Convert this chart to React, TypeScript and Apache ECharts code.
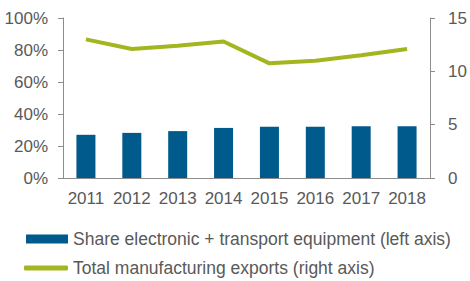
import React, { useEffect, useRef } from "react";
import * as echarts from "echarts";

const years = ["2011", "2012", "2013", "2014", "2015", "2016", "2017", "2018"];
const shareElectronicTransport = [27.0, 28.2, 29.3, 31.3, 32.0, 32.0, 32.4, 32.4];
const totalManufacturingExports = [13.0, 12.1, 12.4, 12.8, 10.75, 11.0, 11.5, 12.1];

const barName = "Share electronic + transport equipment (left axis)";
const lineName = "Total manufacturing exports (right axis)";

const textColor = "#595959";
const axisColor = "#8c8c8c";
const font = "'Liberation Sans', Arial, sans-serif";

export default function App() {
  const ref = useRef<HTMLDivElement>(null);
  useEffect(() => {
    if (!ref.current) return;
    document.body.style.margin = "0";
    const chart = echarts.init(ref.current, undefined, { renderer: "svg" });
    chart.setOption({
      animation: false,
      textStyle: { fontFamily: font },
      grid: { left: 63, right: 40, top: 18, bottom: 103, containLabel: false },
      legend: [
        {
          data: [barName],
          left: 26,
          top: 230,
          padding: 0,
          icon: "rect",
          itemWidth: 42,
          itemHeight: 9,
          textStyle: { color: textColor, fontSize: 17.5, fontFamily: font },
        },
        {
          data: [lineName],
          left: 24,
          top: 259,
          padding: 0,
          icon: "roundRect",
          itemWidth: 44,
          itemHeight: 5,
          textStyle: { color: textColor, fontSize: 17.5, fontFamily: font },
        },
      ],
      xAxis: {
        type: "category",
        data: years,
        axisLine: { lineStyle: { color: axisColor, width: 1 } },
        axisTick: { length: 5, lineStyle: { color: axisColor } },
        axisLabel: { color: textColor, fontSize: 17, margin: 12, interval: 0 },
      },
      yAxis: [
        {
          type: "value",
          min: 0,
          max: 100,
          interval: 20,
          position: "left",
          axisLine: { show: true, lineStyle: { color: axisColor } },
          axisTick: { show: true, length: 5, lineStyle: { color: axisColor } },
          splitLine: { show: false },
          axisLabel: { color: textColor, fontSize: 17, margin: 15, formatter: "{value}%" },
        },
        {
          type: "value",
          min: 0,
          max: 15,
          interval: 5,
          position: "right",
          axisLine: { show: true, lineStyle: { color: axisColor } },
          axisTick: { show: true, length: 5, lineStyle: { color: axisColor } },
          splitLine: { show: false },
          axisLabel: { color: textColor, fontSize: 17, margin: 18 },
        },
      ],
      series: [
        {
          name: barName,
          type: "bar",
          data: shareElectronicTransport,
          yAxisIndex: 0,
          barWidth: 19,
          itemStyle: { color: "#005a8b" },
        },
        {
          name: lineName,
          type: "line",
          data: totalManufacturingExports,
          yAxisIndex: 1,
          symbol: "none",
          lineStyle: { color: "#a3b61f", width: 4 },
          itemStyle: { color: "#a3b61f" },
        },
      ],
    });
    return () => chart.dispose();
  }, []);
  return (
    <div
      ref={ref}
      style={{ position: "absolute", left: 0, top: 0, width: 470, height: 281 }}
    />
  );
}
